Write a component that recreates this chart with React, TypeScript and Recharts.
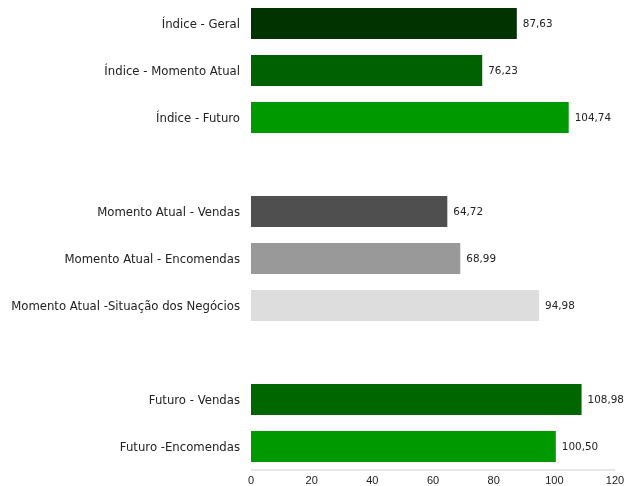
import { BarChart, Bar, XAxis, YAxis, Cell, LabelList } from "recharts";

const categories = [
  "Índice - Geral",
  "Índice - Momento Atual",
  "Índice - Futuro",
  "",
  "Momento Atual - Vendas",
  "Momento Atual - Encomendas",
  "Momento Atual -Situação dos Negócios",
  " ",
  "Futuro - Vendas",
  "Futuro -Encomendas",
];

const values: (number | null)[] = [
  87.63, 76.23, 104.74, null, 64.72, 68.99, 94.98, null, 108.98, 100.5,
];

const xTicks = [0, 20, 40, 60, 80, 100, 120];

const barColors = [
  "#003300",
  "#006100",
  "#009900",
  "transparent",
  "#4f4f4f",
  "#999999",
  "#dddddd",
  "transparent",
  "#006600",
  "#009900",
];

const data = categories.map((name, i) => ({ name, value: values[i] }));

const fmt = (v: any) =>
  v == null ? "" : Number(v).toFixed(2).replace(".", ",");

const labelFont = { fontFamily: "DejaVu Sans, Verdana", fontSize: 11.7, fill: "#222" };
const valueFont = { fontFamily: "DejaVu Sans, Verdana", fontSize: 10.4, fill: "#222" };

const CategoryTick = ({ x, y, payload }: any) => (
  <text x={x - 3} y={y} dy={4} textAnchor="end" {...labelFont}>
    {payload.value}
  </text>
);

const App = () => {
  return (
    <div style={{ position: "fixed", top: 0, left: 0 }}>
      <BarChart
        width={625}
        height={486}
        data={data}
        layout="vertical"
        margin={{ top: 0, right: 10, bottom: 0, left: 0 }}
      >
        <XAxis
          type="number"
          domain={[0, 120]}
          ticks={xTicks}
          tickLine={false}
          axisLine={{ stroke: "#cccccc" }}
          height={16}
          tickMargin={0}
          tick={{ fontFamily: "Liberation Sans, Arial", fontSize: 11, fill: "#222" }}
          interval={0}
        />
        <YAxis
          type="category"
          dataKey="name"
          width={251}
          tickLine={false}
          axisLine={false}
          interval={0}
          tick={<CategoryTick />}
        />
        <Bar dataKey="value" barSize={31} isAnimationActive={false}>
          {data.map((d, i) => (
            <Cell key={i} fill={barColors[i]} />
          ))}
          <LabelList
            dataKey="value"
            position="right"
            offset={6}
            formatter={fmt}
            style={valueFont}
          />
        </Bar>
      </BarChart>
    </div>
  );
};

export default App;
